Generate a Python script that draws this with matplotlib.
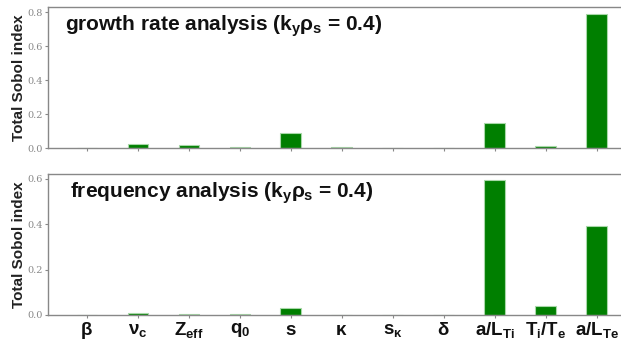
import matplotlib
matplotlib.use("Agg")
import matplotlib.pyplot as plt
import numpy as np

plt.rcParams.update({
    "mathtext.fontset": "custom",
    "mathtext.rm": "Liberation Sans:bold",
    "mathtext.it": "Liberation Sans:bold",
    "mathtext.bf": "Liberation Sans:bold",
})

# input parameters
params = [r"$\beta$", r"$\nu_c$", r"$Z_{eff}$", r"$q_0$", r"$s$", r"$\kappa$",
          r"$s_\kappa$", r"$\delta$", r"$a/L_{Ti}$", r"$T_i/T_e$", r"$a/L_{Te}$"]

# total Sobol indices
growth_sobol = [0.0, 0.025, 0.015, 0.005, 0.086, 0.005, 0.0, 0.0, 0.149, 0.01, 0.79]
freq_sobol = [0.0, 0.01, 0.003, 0.005, 0.032, 0.002, 0.0, 0.0, 0.595, 0.04, 0.393]

panels = [
    (growth_sobol, r"growth rate analysis ($k_y\rho_s$ = 0.4)", 0.83,
     [0.0, 0.2, 0.4, 0.6, 0.8], 0.03),
    (freq_sobol, r"frequency analysis ($k_y\rho_s$ = 0.4)", 0.62,
     [0.0, 0.2, 0.4, 0.6], 0.038),
]

fig = plt.figure(figsize=(6.21, 3.40), dpi=100)
ax_top = fig.add_axes([48 / 621, 1 - 148 / 340, 1 - 48 / 621 + 0.01, 141 / 340])
ax_bot = fig.add_axes([48 / 621, 1 - 315 / 340, 1 - 48 / 621 + 0.01, 141 / 340])

x = np.arange(len(params))
for ax, (vals, title, ymax, yticks, tx) in zip([ax_top, ax_bot], panels):
    ax.bar(x, vals, width=0.4, color="#007f00", edgecolor="#a8d8a8", linewidth=0.8)
    ax.set_xlim(-0.76, 10.6)
    ax.set_ylim(0, ymax)
    ax.set_yticks(yticks)
    ax.set_yticklabels([f"{t:.1f}" for t in yticks], family="DejaVu Serif",
                       fontsize=7, color="#777777")
    ax.set_xticks(x)
    for side in ["top", "left", "bottom"]:
        ax.spines[side].set_color("#888888")
        ax.spines[side].set_linewidth(1.0)
    ax.spines["right"].set_visible(False)
    ax.tick_params(axis="both", colors="#888888", length=2.5, width=0.8)
    ax.tick_params(axis="y", pad=1.5)
    ax.set_ylabel("Total Sobol index", family="Liberation Sans", fontweight="bold",
                  fontsize=11, color="#222222")
    ax.yaxis.set_label_coords(-0.038, 0.5)
    ax.text(tx, 0.86, title, transform=ax.transAxes, family="Liberation Sans",
            fontweight="bold", fontsize=15, color="#111111", va="center", ha="left")

ax_top.set_xticklabels([])
ax_bot.set_xticklabels(params, fontsize=13.5, color="#111111")
ax_bot.tick_params(axis="x", labelcolor="#111111", pad=1)

fig.savefig("out.png", dpi=100)
